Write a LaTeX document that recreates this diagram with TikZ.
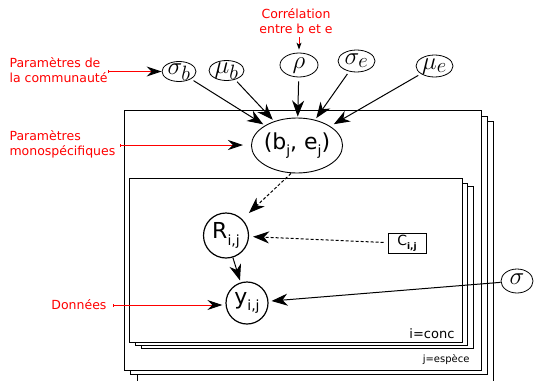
\documentclass[tikz,border=0pt]{standalone}
\usepackage{fontspec}
\setmainfont{DejaVu Sans}
\usetikzlibrary{arrows.meta,shapes.geometric}
\newcommand{\mysub}[1]{\raisebox{-0.3em}{\fontsize{14}{14}\selectfont #1}}
\begin{document}
\begin{tikzpicture}[x=1pt,y=-1pt,
  plate/.style={draw=black,line width=0.8pt,fill=white},
  par/.style={ellipse,draw,line width=0.8pt,inner sep=0pt,font=\Huge,text height=9pt,text depth=3pt},
  tipbig/.tip={Stealth[length=16pt,width=12pt,inset=5pt]},
  arr/.style={-tipbig,line width=1pt},
  darr/.style={arr,dash pattern=on 3pt off 2pt},
  lbl/.style={text=red,font=\fontsize{12.5}{15}\selectfont,align=left},
  annot/.style={red,line width=0.9pt,{Bar[width=3pt]}-{Stealth[length=15pt,width=10pt,inset=5pt,color=black]}},
  annotsmall/.style={red,line width=0.9pt,-{Stealth[length=7pt,width=5pt,inset=2pt,color=black]}},
  bignode/.style={circle,draw,line width=1.2pt,inner sep=0pt,font=\fontsize{22}{22}\selectfont},
]
\useasboundingbox (0,0) rectangle (534,380);
\clip (0,0) rectangle (534,380);

% outer plates (j)
\draw[plate] (137,121) rectangle (493,390);
\draw[plate] (130,116) rectangle (487,374);
\draw[plate] (124,110) rectangle (481,370);
\node[font=\fontsize{10}{10}\selectfont,anchor=base east] (jlbl) at (473,362) {j=espèce};

% inner plates (i)
\draw[plate] (141,186) rectangle (473,348);
\draw[plate] (135,183) rectangle (467,345);
\draw[plate] (129,178) rectangle (462,342);
\node[font=\fontsize{13}{13}\selectfont,anchor=base east] (ilbl) at (458,338) {i=conc};

% parameter nodes
\node[par,minimum width=34pt,minimum height=20pt] (sb) at (179,71.5) {$\sigma_b$};
\node[par,minimum width=35pt,minimum height=20pt] (mb) at (226.5,70.5) {$\mu_b$};
\node[par,minimum width=38pt,minimum height=24pt] (rho) at (299,65) {$\rho$};
\node[par,minimum width=37pt,minimum height=22pt] (se) at (356.5,61) {$\sigma_e$};
\node[par,minimum width=37pt,minimum height=22pt] (me) at (434.5,66) {$\mu_e$};
\node[par,minimum width=32pt,minimum height=24pt] (sig) at (517,281) {$\sigma$};

\node[ellipse,draw,line width=0.9pt,inner sep=-1pt,minimum width=90pt,minimum height=55pt,font=\fontsize{22}{22}\selectfont] (bej) at (297,145.5) {(b\mysub{j}, e\mysub{j})};

\node[bignode,minimum size=45pt] (R) at (226,235.5) {R\mysub{i,j}};
\node[bignode,minimum size=42pt] (y) at (247,303) {y\mysub{i,j}};
\node[draw,line width=1pt,minimum width=38pt,minimum height=20pt,inner sep=1pt,font=\fontsize{14}{14}\selectfont] (C) at (407,243.5) {C\raisebox{-0.3em}{\fontsize{9}{9}\selectfont\bfseries i,j}};

% red labels
\node[lbl,anchor=west] (lcom) at (6,70) {Paramètres de\\la communauté};
\node[lbl,anchor=west] (lmono) at (6,144) {Paramètres\\monospécifiques};
\node[lbl,anchor=east] (ldon) at (110,305) {Données};
\node[lbl,align=center] (lcor) at (296,21) {Corrélation\\entre b et e};

\coordinate (tcom) at (108,71.5);
\coordinate (tmono) at (120,145);
\coordinate (tdon) at (113,305);

\draw[annot] (tcom) -- (sb.west);
\draw[annot,shorten >=8pt] (tmono) -- (bej.west |- tmono);
\draw[annot,shorten >=3pt] (tdon) -- (y.west |- tdon);
\draw[annotsmall,shorten >=3pt] (lcor.south -| rho.north) -- (rho.north);

% main arrows
\draw[arr,shorten <=3pt,shorten >=2pt] (sb) -- (bej);
\draw[arr,shorten <=3pt,shorten >=2pt] (mb) -- (bej);
\draw[arr,shorten <=4pt,shorten >=1pt] (rho) -- (bej);
\draw[arr,shorten <=3pt,shorten >=2pt] (se) -- (bej);
\draw[arr,shorten <=3pt,shorten >=4pt] (me) -- (bej);

\draw[darr,shorten >=9pt] ([xshift=-6pt]bej.south) -- (R.45);
\draw[darr,shorten <=4pt,shorten >=4pt] (C) -- (R);
\draw[arr,shorten >=2pt] (R) -- (y);
\draw[arr,shorten >=3pt] (sig) -- (y);
\end{tikzpicture}
\end{document}
